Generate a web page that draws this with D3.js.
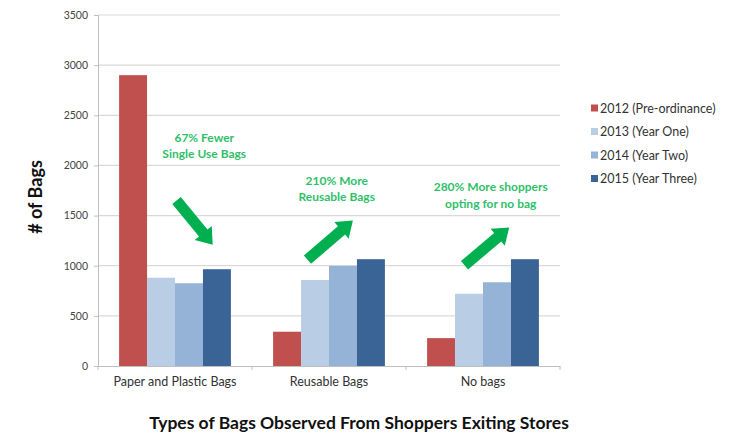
<head>
  <meta charset="UTF-8">
  <script src="https://d3js.org/d3.v7.min.js"></script>
</head>
<body style="margin:0;background:#fff">
  <svg id="chart"></svg>
</body>
<style>
  text { font-family: 'Lato', 'Open Sans', sans-serif; }
  .note { fill: #2fbf6a; font-weight: bold; font-size: 12px; }
</style>
<script>
  const categories=['Paper and Plastic Bags','Reusable Bags','No bags'];
  const seriesNames=['2012 (Pre-ordinance)','2013 (Year One)','2014 (Year Two)','2015 (Year Three)'];
  const v2012=[2900,342,278];
  const v2013=[880,858,720];
  const v2014=[825,998,835];
  const v2015=[965,1065,1065];
  const yTicks=[0,500,1000,1500,2000,2500,3000,3500];
  const colors=['#c0504d','#b9cde5','#95b3d7','#3a6396'];

  // annotation text + arrows (category, band fraction, value)
  const notes=[
    {cat:0,f:0.69,lines:['67% Fewer','Single Use Bags'],v:2235},
    {cat:1,f:0.55,lines:['210% More','Reusable Bags'],v:1805},
    {cat:2,f:0.55,lines:['280% More shoppers','opting for no bag'],v:1745}
  ];
  const arrows=[
    {cat:0,f0:0.51,v0:1650,f1:0.745,v1:1210},
    {cat:1,f0:0.36,v0:1060,f1:0.655,v1:1450},
    {cat:2,f0:0.38,v0:1005,f1:0.67,v1:1380}
  ];

  const W=743,H=435;
  const m={top:15,left:98,right:183,bottom:69};
  const w=W-m.left-m.right,h=H-m.top-m.bottom;

  const svg=d3.select('#chart').attr('width',W).attr('height',H);
  const g=svg.append('g').attr('transform',`translate(${m.left},${m.top})`);

  const x0=d3.scaleBand().domain(categories).range([0,w]);
  const x1=d3.scaleBand().domain(seriesNames)
    .range([x0.bandwidth()*0.137,x0.bandwidth()*0.863]);
  const y=d3.scaleLinear().domain([0,3500]).range([h,0]);

  // grid
  g.append('g').selectAll('line').data(yTicks.slice(1)).join('line')
    .attr('x1',0).attr('x2',w)
    .attr('y1',d => y(d)).attr('y2',d => y(d))
    .attr('stroke','#d9d9d9').attr('stroke-width',1.2);

  const yAxis=g.append('g')
    .call(d3.axisLeft(y).tickValues(yTicks).tickFormat(d3.format('d')).tickSize(4).tickPadding(6));
  yAxis.select('.domain').attr('stroke','#bfbfbf');
  yAxis.selectAll('.tick line').attr('stroke','#bfbfbf');
  yAxis.selectAll('text').attr('font-size','10.5px').attr('fill','#444')
    .attr('font-family','Lato, sans-serif');

  const xAxis=g.append('g').attr('transform',`translate(0,${h})`)
    .call(d3.axisBottom(x0).tickSize(0).tickPadding(11));
  xAxis.select('.domain').attr('stroke','#bfbfbf');
  xAxis.selectAll('text').attr('font-size','12.5px').attr('fill','#333')
    .attr('font-family','Lato, sans-serif');
  g.append('g').selectAll('line').data(d3.range(categories.length+1)).join('line')
    .attr('x1',d => d*x0.step()).attr('x2',d => d*x0.step())
    .attr('y1',h).attr('y2',h+4).attr('stroke','#bfbfbf');

  const series=[v2012,v2013,v2014,v2015];
  series.forEach((vals,si) => {
    g.append('g').selectAll('rect').data(vals).join('rect')
      .attr('x',(d,i) => x0(categories[i])+x1(seriesNames[si]))
      .attr('width',x1.bandwidth())
      .attr('y',d => y(d))
      .attr('height',d => h-y(d))
      .attr('fill',colors[si]);
  });

  // arrows
  function arrowPath(a){
    const sx=x0(categories[a.cat])+a.f0*x0.bandwidth(),sy=y(a.v0);
    const ex=x0(categories[a.cat])+a.f1*x0.bandwidth(),ey=y(a.v1);
    const dx=ex-sx,dy=ey-sy,len=Math.hypot(dx,dy);
    const ux=dx/len,uy=dy/len,nx=-uy,ny=ux;
    const sw=5.5,hw=11,hl=15;
    const bx=ex-ux*hl,by=ey-uy*hl;
    const p=[
      [sx+nx*sw,sy+ny*sw],[bx+nx*sw,by+ny*sw],[bx+nx*hw,by+ny*hw],[ex,ey],
      [bx-nx*hw,by-ny*hw],[bx-nx*sw,by-ny*sw],[sx-nx*sw,sy-ny*sw]
    ];
    return 'M'+p.map(q => q.join(',')).join('L')+'Z';
  }
  g.append('g').selectAll('path').data(arrows).join('path')
    .attr('d',arrowPath).attr('fill','#00b050');

  const nt=g.append('g').selectAll('text').data(notes).join('text')
    .attr('class','note').attr('text-anchor','middle')
    .attr('x',d => x0(categories[d.cat])+d.f*x0.bandwidth())
    .attr('y',d => y(d.v));
  nt.selectAll('tspan').data(d => d.lines).join('tspan')
    .attr('x',function(){ return d3.select(this.parentNode).attr('x'); })
    .attr('dy',(d,i) => i===0 ? 0 : 16.5)
    .text(d => d);

  // legend
  const lg=svg.append('g').attr('transform','translate(591,108)');
  const li=lg.selectAll('g').data(seriesNames).join('g')
    .attr('transform',(d,i) => `translate(0,${i*23.5})`);
  li.append('rect').attr('x',0).attr('y',-3.5).attr('width',7).attr('height',7)
    .attr('fill',(d,i) => colors[i]);
  li.append('text').attr('x',9).attr('y',4.5).attr('font-size','12.5px')
    .attr('fill','#333').text(d => d);

  // axis titles
  svg.append('text').attr('transform','translate(42,197) rotate(-90)')
    .attr('text-anchor','middle').attr('font-size','18px').attr('font-weight','bold')
    .attr('fill','#111').text('# of Bags');
  svg.append('text').attr('x',359).attr('y',429)
    .attr('text-anchor','middle').attr('font-size','17.5px').attr('font-weight','bold')
    .attr('fill','#111').text('Types of Bags Observed From Shoppers Exiting Stores');
</script>
